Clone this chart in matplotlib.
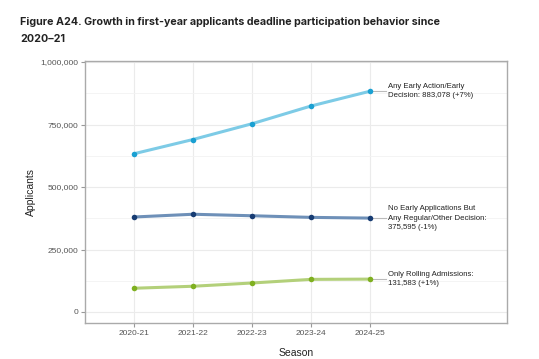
import matplotlib
matplotlib.use("Agg")
import matplotlib.pyplot as plt
from matplotlib.ticker import FuncFormatter, MultipleLocator

seasons = ["2020-21", "2021-22", "2022-23", "2023-24", "2024-25"]
early = [633000, 690000, 753000, 824000, 883078]
no_early = [380000, 391000, 385000, 378500, 375595]
rolling = [95000, 103000, 116000, 130500, 131583]
labels = ["Any Early Action/Early\nDecision: 883,078 (+7%)",
          "No Early Applications But\nAny Regular/Other Decision:\n375,595 (-1%)",
          "Only Rolling Admissions:\n131,583 (+1%)"]
line_colors = ["#7dcbe6", "#6e90b8", "#b3d07a"]
point_colors = ["#1aa0d2", "#173c73", "#7fb020"]

plt.rcParams['font.family'] = ['Liberation Sans', 'DejaVu Sans']
fig = plt.figure(figsize=(5.39, 3.59), dpi=100)
ax = fig.add_axes([85/539, 1-323/359, (507-85)/539, (323-61)/359])

x = list(range(1, len(seasons)+1))
for vals, lc, pc, lab in zip([early, no_early, rolling], line_colors, point_colors, labels):
    ax.plot(x, vals, color=lc, lw=2.2, zorder=3, solid_capstyle='round')
    ax.scatter(x, vals, color=pc, s=16, zorder=4, linewidths=0)
    ax.plot([x[-1], x[-1]+0.27], [vals[-1], vals[-1]], color="#bbbbbb", lw=0.8, zorder=2)
    ax.text(x[-1]+0.3, vals[-1], lab, fontsize=5.6, color="#222222", va='center',
            ha='left', linespacing=1.45)

ax.set_xlim(1-49/59, 1+(507-134)/59)
ax.set_ylim(-44000, 1004000)
ax.set_xticks(x)
ax.set_xticklabels(seasons)
ax.yaxis.set_major_locator(MultipleLocator(250000))
ax.yaxis.set_minor_locator(MultipleLocator(125000))
ax.yaxis.set_major_formatter(FuncFormatter(lambda v, p: f"{int(v):,}"))
ax.grid(which='major', color="#ebebeb", lw=0.8)
ax.grid(which='minor', axis='y', color="#f3f3f3", lw=0.6)
ax.set_axisbelow(True)
ax.tick_params(axis='both', which='major', colors="#999999", labelcolor="#555555", labelsize=6, length=3, width=0.8, pad=2)
ax.tick_params(axis='y', which='minor', length=0)
for s in ax.spines.values():
    s.set_color("#aaaaaa")
    s.set_linewidth(1)
ax.set_ylabel("Applicants", fontsize=7.5, color="#222222", labelpad=3)
ax.set_xlabel("Season", fontsize=7.5, color="#222222", labelpad=8)

fig.text(20/539, 1-22/359, "Figure A24. Growth in first-year applicants deadline participation behavior since",
         fontsize=7.7, fontweight='bold', color="#222222", family=['Inter', 'DejaVu Sans'],
         va='center', ha='left')
fig.text(20/539, 1-39/359, "2020\u201321",
         fontsize=7.7, fontweight='bold', color="#222222", family=['Inter', 'DejaVu Sans'],
         va='center', ha='left')
fig.savefig("out.png", dpi=100)
